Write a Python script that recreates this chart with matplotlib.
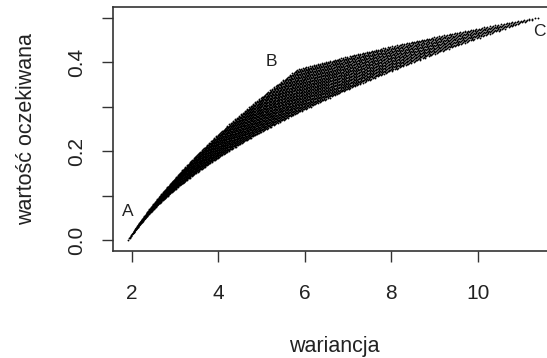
import numpy as np
import matplotlib.pyplot as plt

plt.rcParams['font.family'] = ['Liberation Sans', 'DejaVu Sans']

# three assets: expected return and covariance matrix
asset_names = ['A', 'B', 'C']
asset_means = [0.0, 0.382, 0.5]
asset_cov = [[1.92, 3.15, 3.6],
             [3.15, 5.82, 8.0],
             [3.6, 8.0, 11.4]]
weight_step = 0.01

# where the letters sit next to the corner portfolios
name_x = [1.90, 5.22, 11.43]
name_y = [0.064, 0.402, 0.468]

x_ticks = [2, 4, 6, 8, 10]
y_ticks = [0.0, 0.1, 0.2, 0.3, 0.4, 0.5]
y_tick_labels = ['0.0', '', '0.2', '', '0.4', '']

# all long-only portfolios on a weight grid
grid = np.round(np.arange(0, 1 + weight_step / 2, weight_step), 6)
w1, w2 = np.meshgrid(grid, grid)
keep = (w1 + w2) <= 1 + 1e-9
w1, w2 = w1[keep], w2[keep]
W = np.column_stack([w1, w2, 1 - w1 - w2])
cov = np.array(asset_cov)
variance = np.einsum('ij,jk,ik->i', W, cov, W)
exp_return = W @ np.array(asset_means)

fig = plt.figure(figsize=(5.47, 3.58), dpi=100)
ax = fig.add_axes([113 / 547, 1 - 251 / 358, (556 - 113) / 547, (251 - 7) / 358])

ax.scatter(variance, exp_return, s=1.8, c='black', marker='o', linewidths=0)

for name, tx, ty in zip(asset_names, name_x, name_y):
    ax.text(tx, ty, name, fontsize=12.5, ha='center', va='center', color='#222222')

ax.set_xlim(1.568, 11.81)
ax.set_ylim(-0.0247, 0.5236)
ax.set_xticks(x_ticks)
ax.set_yticks(y_ticks)
ax.set_yticklabels(y_tick_labels, rotation=90, va='center')
ax.tick_params(axis='both', length=8, width=1, color='#333333',
               labelsize=15, labelcolor='#222222')
ax.tick_params(axis='x', pad=16)
ax.tick_params(axis='y', pad=11)
for sp in ax.spines.values():
    sp.set_color('#333333')
    sp.set_linewidth(1.2)

ax.set_xlabel('wariancja', fontsize=15.5, color='#222222')
ax.xaxis.set_label_coords(0.5, -0.35)
ax.set_ylabel('wartość oczekiwana', fontsize=15.5, color='#222222')
ax.yaxis.set_label_coords(-0.172, 0.5)

fig.savefig('out.png', dpi=100)
